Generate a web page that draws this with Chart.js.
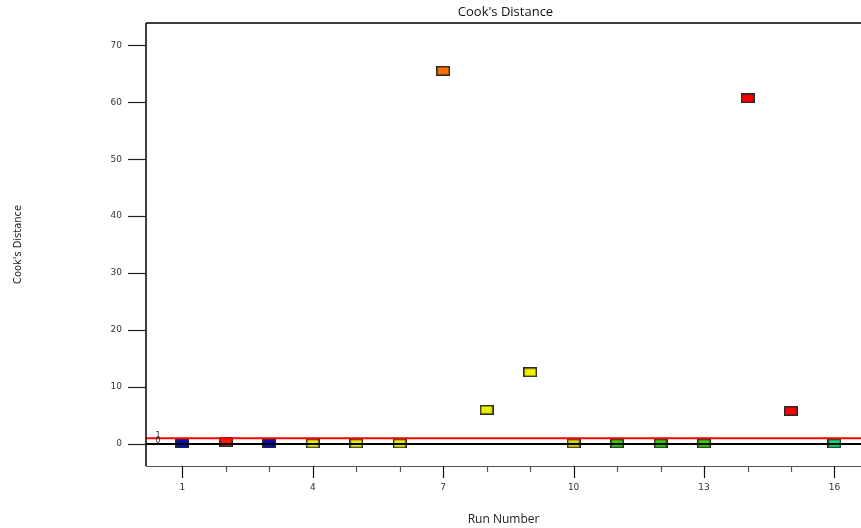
<!DOCTYPE html>
<html>
<head>
<meta charset="utf-8">
<script src="https://cdn.jsdelivr.net/npm/chart.js@4.4.1/dist/chart.umd.min.js"></script>
<style>
  html, body { margin: 0; padding: 0; background: #fff; overflow: hidden; }
  #wrap { width: 861px; height: 528px; }
  canvas { display: block; }
</style>
</head>
<body>
<div id="wrap"><canvas id="cooksChart" width="861" height="528"></canvas></div>
<script>
// run order and cook's distance for each run
const runs = [1, 2, 3, 4, 5, 6, 7, 8, 9, 10, 11, 12, 13, 14, 15, 16];
const cooks = [0.1, 0.35, 0.1, 0.1, 0.1, 0.1, 65.5, 6.0, 12.6, 0.1, 0.1, 0.1, 0.1, 60.7, 5.8, 0.1];
const pointColors = ['#0010c0', '#ff1800', '#0010c0', '#e8f000', '#e8f000', '#e8f000', '#ff7000', '#e8f000',
                     '#f0f000', '#d8d800', '#33cc00', '#33cc00', '#33cc00', '#ff0000', '#ff0000', '#00e078'];
const xMajorTicks = [1, 4, 7, 10, 13, 16];
const yTicks = [0, 10, 20, 30, 40, 50, 60, 70];
const limitLine = 1;   // red reference
const zeroLine = 0;

const tickFont = { family: 'DejaVu Sans', size: 9 };

// little rectangles used as point markers
const markerCache = {};
function marker(color) {
    if (markerCache[color]) return markerCache[color];
    const c = document.createElement('canvas');
    c.width = 14; c.height = 10;
    const g = c.getContext('2d');
    g.fillStyle = '#2a2a2a';
    g.fillRect(0, 0, 14, 10);
    g.fillStyle = color;
    g.fillRect(1.5, 1.5, 11, 7);
    markerCache[color] = c;
    return c;
}

// frame, tick marks, reference lines and title
const decorations = {
    id: 'decorations',
    afterDatasetsDraw(chart) {
        const { ctx, chartArea: a, scales: { x, y } } = chart;
        ctx.save();
        // reference lines over the markers
        ctx.lineWidth = 2;
        ctx.strokeStyle = '#000';
        ctx.beginPath();
        ctx.moveTo(a.left, y.getPixelForValue(zeroLine));
        ctx.lineTo(a.right, y.getPixelForValue(zeroLine));
        ctx.stroke();
        ctx.strokeStyle = '#ff0000';
        ctx.beginPath();
        ctx.moveTo(a.left, y.getPixelForValue(limitLine));
        ctx.lineTo(a.right, y.getPixelForValue(limitLine));
        ctx.stroke();

        ctx.fillStyle = '#333';
        ctx.font = '8px DejaVu Sans';
        ctx.textAlign = 'center';
        ctx.textBaseline = 'alphabetic';
        ctx.fillText(String(limitLine), a.left + 12, y.getPixelForValue(limitLine) + 0);
        ctx.fillText(String(zeroLine), a.left + 12, y.getPixelForValue(zeroLine) - 1);

        // frame
        ctx.strokeStyle = '#000';
        ctx.lineWidth = 1.5;
        ctx.beginPath();
        ctx.moveTo(a.left, a.top);
        ctx.lineTo(a.right, a.top);
        ctx.moveTo(a.left, a.top);
        ctx.lineTo(a.left, a.bottom);
        ctx.stroke();
        ctx.strokeStyle = '#555';
        ctx.lineWidth = 1.2;
        ctx.beginPath();
        ctx.moveTo(a.left, a.bottom + 0.5);
        ctx.lineTo(a.right, a.bottom + 0.5);
        ctx.stroke();

        // x ticks: long at labelled runs, short elsewhere
        ctx.lineWidth = 1.2;
        runs.forEach(r => {
            const px = Math.round(x.getPixelForValue(r)) + 0.5;
            const major = xMajorTicks.includes(r);
            ctx.strokeStyle = major ? '#111' : '#555';
            ctx.beginPath();
            ctx.moveTo(px, a.bottom);
            ctx.lineTo(px, a.bottom + (major ? 12 : 6));
            ctx.stroke();
        });
        // y ticks
        ctx.strokeStyle = '#222';
        ctx.lineWidth = 1.2;
        yTicks.forEach(v => {
            const py = Math.round(y.getPixelForValue(v)) + 0.5;
            ctx.beginPath();
            ctx.moveTo(a.left - 18, py);
            ctx.lineTo(a.left, py);
            ctx.stroke();
        });

        // title
        ctx.fillStyle = '#111';
        ctx.font = '13px "Open Sans"';
        ctx.textAlign = 'center';
        ctx.textBaseline = 'middle';
        ctx.fillText("Cook's Distance", (a.left + a.right) / 2 + 2, 12);
        ctx.restore();
    }
};

const ctx = document.getElementById('cooksChart').getContext('2d');
const cooksChart = new Chart(ctx, {
    type: 'scatter',
    data: {
        datasets: [{
            label: "Cook's Distance",
            data: runs.map((r, i) => ({ x: r, y: cooks[i] })),
            pointStyle: c => marker(pointColors[c.dataIndex]),
            pointRadius: 6,
            pointHoverRadius: 6
        }]
    },
    options: {
        responsive: false,
        animation: false,
        events: [],
        layout: { autoPadding: false, padding: { top: 23, right: 0, left: 0, bottom: 0 } },
        plugins: { legend: { display: false }, tooltip: { enabled: false } },
        scales: {
            x: {
                type: 'linear',
                min: 0.165,
                max: 16.61,
                afterFit: s => { s.height = 62; s.paddingLeft = 0; s.paddingRight = 0; },
                afterBuildTicks: s => { s.ticks = xMajorTicks.map(v => ({ value: v })); },
                grid: { display: false, drawTicks: false },
                border: { display: false },
                ticks: { color: '#333', font: tickFont, padding: 16, maxRotation: 0 },
                title: {
                    display: true,
                    text: 'Run Number',
                    color: '#222',
                    font: { family: 'Open Sans', size: 12 },
                    padding: { top: 0, bottom: 1 }
                }
            },
            y: {
                min: -3.86,
                max: 73.9,
                afterFit: s => { s.width = 146; s.paddingTop = 0; s.paddingBottom = 0; },
                afterBuildTicks: s => { s.ticks = yTicks.map(v => ({ value: v })); },
                grid: { display: false, drawTicks: false },
                border: { display: false },
                ticks: { color: '#333', font: tickFont, padding: 24 },
                title: {
                    display: true,
                    text: "Cook's Distance",
                    color: '#222',
                    font: { family: '"Liberation Sans Narrow", "DejaVu Sans Condensed", sans-serif', size: 11 },
                    padding: { top: 12, bottom: 0 }
                }
            }
        }
    },
    plugins: [decorations]
});
</script>
</body>
</html>
